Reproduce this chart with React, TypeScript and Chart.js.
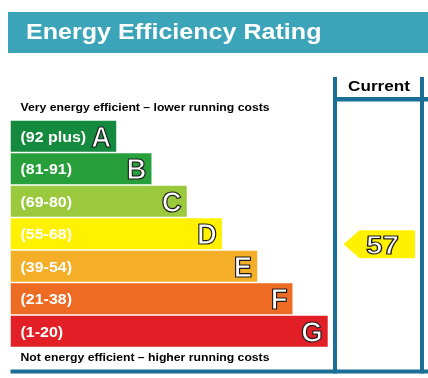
import React, { useEffect, useRef } from 'react';
import { Chart, registerables } from 'chart.js';

Chart.register(...registerables);

const bands = ['A', 'B', 'C', 'D', 'E', 'F', 'G'];
const rangeLabels = ['(92 plus)', '(81-91)', '(69-80)', '(55-68)', '(39-54)', '(21-38)', '(1-20)'];
const bandMin = [92, 81, 69, 55, 39, 21, 1];
const bandMax = [100, 91, 80, 68, 54, 38, 20];
const barLengths = [3, 4, 5, 6, 7, 8, 9];
const bandColors = ['#138a3e', '#27a03c', '#9bc93d', '#fff100', '#f5ae27', '#ee6b23', '#e21f26'];
const currentRating = 57;
const titleText = 'Energy Efficiency Rating';
const topNote = 'Very energy efficient – lower running costs';
const bottomNote = 'Not energy efficient – higher running costs';
const columnLabel = 'Current';

const FONT = '"Liberation Sans", Arial, sans-serif';
const LINE = '#1b6f96';
const SX = 1.14;

function txt(ctx: CanvasRenderingContext2D, s: string, x: number, y: number, size: number, align: CanvasTextAlign, fill: string, stroke?: string, sx = SX) {
  ctx.save();
  ctx.translate(x, y);
  ctx.scale(sx, 1);
  ctx.font = `bold ${size}px ${FONT}`;
  ctx.textAlign = align;
  ctx.textBaseline = 'alphabetic';
  ctx.fillStyle = fill;
  ctx.fillText(s, 0, 0);
  if (stroke) {
    ctx.lineWidth = 1.2;
    ctx.strokeStyle = stroke;
    ctx.lineJoin = 'round';
    ctx.strokeText(s, 0, 0);
  }
  ctx.restore();
}

const epcPlugin = {
  id: 'epc',
  afterDatasetsDraw(chart: any) {
    const ctx: CanvasRenderingContext2D = chart.ctx;
    const xs = chart.scales.x;
    const ys = chart.scales.y;
    const area = chart.chartArea;
    ctx.save();

    // title banner
    ctx.fillStyle = '#3ca4b8';
    ctx.fillRect(8, 12, 420, 41);
    txt(ctx, titleText, 26, 38.5, 22, 'left', '#ffffff');

    // notes
    txt(ctx, topNote, 20.5, 111, 11, 'left', '#000000', undefined, 1.11);
    txt(ctx, bottomNote, 20.5, 360.5, 11, 'left', '#000000', undefined, 1.11);

    // band labels
    bands.forEach((b, i) => {
      const cy = ys.getPixelForValue(i);
      const end = xs.getPixelForValue(barLengths[i]);
      txt(ctx, rangeLabels[i], 20.5, cy + 5.3, 14, 'left', '#ffffff');
      txt(ctx, b, end - 5, cy + 10.5, 29, 'right', '#ffffff', '#1a1a1a', 0.95);
    });

    // current column frame
    ctx.fillStyle = LINE;
    ctx.fillRect(333, 77, 4, 296.5);
    ctx.fillRect(420, 77, 4, 296.5);
    ctx.fillRect(333, 97, 95, 4.5);
    ctx.fillRect(area.left, 369.5, 428 - area.left, 4);
    txt(ctx, columnLabel, 379, 90.5, 15, 'center', '#000000');

    // current rating arrow
    const bi = bandMin.findIndex((m, i) => currentRating >= m && currentRating <= bandMax[i]);
    const frac = (bandMax[bi] + 0.5 - currentRating) / (bandMax[bi] - bandMin[bi] + 1);
    const ay = ys.getPixelForValue(bi + frac - 0.5);
    const tipX = 343.5, rightX = 415, half = 14, pw = 16;
    ctx.beginPath();
    ctx.moveTo(tipX, ay);
    ctx.lineTo(tipX + pw, ay - half);
    ctx.lineTo(rightX, ay - half);
    ctx.lineTo(rightX, ay + half);
    ctx.lineTo(tipX + pw, ay + half);
    ctx.closePath();
    ctx.fillStyle = bandColors[bi];
    ctx.fill();
    txt(ctx, String(currentRating), 382.5, ay + 9.5, 26, 'center', '#ffffff', '#1a1a1a');

    ctx.restore();
  },
};

export default function App() {
  const ref = useRef<HTMLCanvasElement>(null);
  useEffect(() => {
    if (!ref.current) return;
    const chart = new Chart(ref.current, {
      type: 'bar',
      data: {
        labels: bands,
        datasets: [
          {
            data: barLengths,
            backgroundColor: bandColors,
            borderWidth: 0,
            barPercentage: 0.954,
            categoryPercentage: 1,
          },
        ],
      },
      options: {
        indexAxis: 'y',
        responsive: false,
        animation: false,
        devicePixelRatio: 1,
        layout: { padding: { left: 10.5, right: 95, top: 120, bottom: 30.5 } },
        plugins: { legend: { display: false }, tooltip: { enabled: false }, title: { display: false } },
        scales: {
          x: { display: false, min: 0, max: 9.15 },
          y: { display: false },
        },
      },
      plugins: [epcPlugin],
    });
    return () => chart.destroy();
  }, []);
  return (
    <div style={{ position: 'fixed', left: 0, top: 0, width: 428, height: 378, background: '#ffffff' }}>
      <canvas ref={ref} width={428} height={378} style={{ width: 428, height: 378, display: 'block' }} />
    </div>
  );
}
